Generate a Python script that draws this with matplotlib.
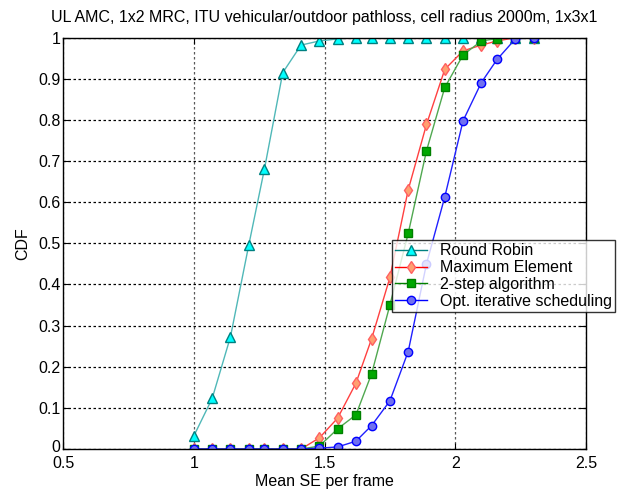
import numpy as np
import matplotlib.pyplot as plt
import matplotlib.transforms as mtransforms

plt.rcParams['font.family'] = ['Liberation Sans', 'DejaVu Sans']

# mean SE per frame (x positions of the CDF samples)
se = [1.00, 1.07, 1.14, 1.21, 1.27, 1.34, 1.41, 1.48, 1.55, 1.62,
      1.68, 1.75, 1.82, 1.89, 1.96, 2.03, 2.10, 2.16, 2.23, 2.30]

cdf_rr = [0.032, 0.123, 0.273, 0.496, 0.681, 0.915, 0.982, 0.992, 0.997, 1.0,
          1.0, 1.0, 1.0, 1.0, 1.0, 1.0, 1.0, 1.0, 1.0, 1.0]
cdf_max = [0, 0, 0, 0, 0, 0, 0, 0.027, 0.075, 0.160,
           0.268, 0.417, 0.630, 0.789, 0.923, 0.968, 0.982, 0.992, 1.0, 1.0]
cdf_2step = [0, 0, 0, 0, 0, 0, 0, 0.007, 0.049, 0.083,
             0.183, 0.350, 0.524, 0.725, 0.879, 0.958, 0.992, 0.998, 1.0, 1.0]
cdf_opt = [0, 0, 0, 0, 0, 0, 0, 0.002, 0.005, 0.019,
           0.057, 0.117, 0.237, 0.450, 0.613, 0.798, 0.891, 0.947, 0.997, 1.0]

labels = ['Round Robin', 'Maximum Element', '2-step algorithm', 'Opt. iterative scheduling']

fs = 11.5

fig = plt.figure(figsize=(6.2, 4.92), dpi=100)
ax = fig.add_axes([0.102, 0.0874, 0.843, 0.836])

ax.plot(se, cdf_rr, '-^', color='#50b8b8', lw=1, ms=7, mfc='#00ffff', mec='#008080', label=labels[0])
ax.plot(se, cdf_max, '-d', color='#ff4040', lw=1, ms=6.5, mfc='#ffa070', mec='#ff6060', label=labels[1])
ax.plot(se, cdf_2step, '-s', color='#50a850', lw=1, ms=6, mfc='#00a800', mec='#008000', label=labels[2])
ax.plot(se, cdf_opt, '-o', color='#2020ff', lw=1, ms=6, mfc='#7070f0', mec='#0000ff', label=labels[3])

ax.set_xlim(0.5, 2.5)
ax.set_ylim(0, 1)
ax.set_xticks([0.5, 1, 1.5, 2, 2.5])
ax.set_xticklabels(['0.5', '1', '1.5', '2', '2.5'])
ax.set_yticks(np.arange(0, 1.01, 0.1))
ax.set_yticklabels(['0', '0.1', '0.2', '0.3', '0.4', '0.5', '0.6', '0.7', '0.8', '0.9', '1'])
ax.tick_params(direction='in', labelsize=fs, length=4, top=True, right=True)
ax.tick_params(axis='x', pad=5)
ax.tick_params(axis='y', pad=2)
ax.xaxis.grid(True, color='0.35', linestyle=(0, (2, 2)), lw=0.9)
ax.yaxis.grid(True, color='black', linestyle=(0, (2, 2)), lw=0.9)
for s in ax.spines.values():
    s.set_linewidth(1)

# nudge the "0" y label up a little so it clears the "0.5" x label
ylab0 = ax.get_yticklabels()[0]
ylab0.set_transform(ylab0.get_transform() + mtransforms.ScaledTranslation(0, 2 / 72, fig.dpi_scale_trans))

ax.set_xlabel('Mean SE per frame', fontsize=fs, labelpad=2)
ax.set_ylabel('CDF', fontsize=fs, labelpad=6)
ax.set_title('UL AMC, 1x2 MRC, ITU vehicular/outdoor pathloss, cell radius 2000m, 1x3x1',
             fontsize=fs, pad=11)

leg_handles = [
    plt.Line2D([], [], color='#008080', lw=1, marker='^', ms=7, mfc='#00ffff', mec='#008080'),
    plt.Line2D([], [], color='#ff0000', lw=1, marker='d', ms=6.5, mfc='#ffa070', mec='#ff6060'),
    plt.Line2D([], [], color='#008000', lw=1, marker='s', ms=6, mfc='#00a800', mec='#008000'),
    plt.Line2D([], [], color='#0000ff', lw=1, marker='o', ms=6, mfc='#7070f0', mec='#0000ff'),
]
leg = fig.legend(leg_handles, labels, loc='upper right', bbox_to_anchor=(615 / 620, 1 - 240 / 492),
                 fontsize=fs, frameon=True, fancybox=False, edgecolor='black',
                 borderpad=0.2, labelspacing=0.12, handlelength=2.0, handletextpad=0.8,
                 borderaxespad=0)
leg.get_frame().set_linewidth(1)

fig.savefig('out.png', dpi=100)
